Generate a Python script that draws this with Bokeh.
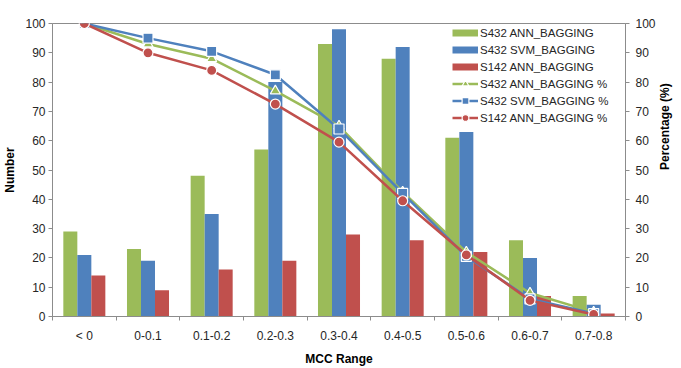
import math
import numpy as np
from bokeh.plotting import figure
from bokeh.models import (ColumnDataSource, Range1d, LinearAxis, FixedTicker,
                          Legend, LegendItem)
from bokeh.transform import dodge
from bokeh.embed import file_html
from bokeh.resources import INLINE

categories = ["< 0", "0-0.1", "0.1-0.2", "0.2-0.3", "0.3-0.4",
              "0.4-0.5", "0.5-0.6", "0.6-0.7", "0.7-0.8"]
ann432 = [29, 23, 48, 57, 93, 88, 61, 26, 7]
svm432 = [21, 19, 35, 80, 98, 92, 63, 20, 4]
ann142 = [14, 9, 16, 19, 28, 26, 22, 7, 1]
ann432_pct = [100, 93, 88, 77, 65, 42.5, 22, 8, 1.5]
svm432_pct = [100, 95, 90.5, 82.5, 64, 42, 20.5, 6, 1]
ann142_pct = [100, 90, 84, 72.5, 59.5, 39.5, 21, 5.5, 0.7]

GREEN = "#9BBB59"
BLUE = "#4F81BD"
RED = "#C0504D"
AXIS = "#8C8C8C"
TXT = "#262626"
FONT = "Liberation Sans"

n = len(categories)
centers = np.arange(n) + 0.5
src = ColumnDataSource(dict(x=centers, ann432=ann432, svm432=svm432, ann142=ann142,
                            ann432_pct=ann432_pct, svm432_pct=svm432_pct,
                            ann142_pct=ann142_pct))

p = figure(width=681, height=368, output_backend="svg", toolbar_location=None,
           x_range=Range1d(0, n), y_range=Range1d(0, 100),
           min_border_left=47, min_border_right=54, min_border_top=23,
           min_border_bottom=52)
p.extra_y_ranges = {"pct": Range1d(0, 100)}
p.xgrid.visible = False
p.ygrid.visible = False
p.outline_line_color = AXIS
p.background_fill_color = "white"
p.border_fill_color = "white"

bw = 0.22
r_g = p.vbar(x=dodge("x", -bw), top="ann432", width=bw, source=src,
             fill_color=GREEN, line_color=None)
r_b = p.vbar(x=dodge("x", 0), top="svm432", width=bw, source=src,
             fill_color=BLUE, line_color=None)
r_r = p.vbar(x=dodge("x", bw), top="ann142", width=bw, source=src,
             fill_color=RED, line_color=None)

# legend-only swatches for bars (thin bands, as in the original legend); they draw nothing in the plot
swatch = ColumnDataSource(dict(x=[0.0, 0.0], y=[float("nan"), float("nan")]))
sw_g = p.line("x", "y", source=swatch, line_color=GREEN, line_width=7)
sw_b = p.line("x", "y", source=swatch, line_color=BLUE, line_width=7)
sw_r = p.line("x", "y", source=swatch, line_color=RED, line_width=7)

lg = p.line("x", "ann432_pct", source=src, y_range_name="pct", line_color=GREEN, line_width=2.5)
mg = p.scatter("x", "ann432_pct", source=src, y_range_name="pct", marker="triangle",
               size=10, fill_color=GREEN, line_color="white", line_width=1.2)
lb = p.line("x", "svm432_pct", source=src, y_range_name="pct", line_color=BLUE, line_width=2.5)
mb = p.scatter("x", "svm432_pct", source=src, y_range_name="pct", marker="square",
               size=10, fill_color=BLUE, line_color="white", line_width=1.2)
lr = p.line("x", "ann142_pct", source=src, y_range_name="pct", line_color=RED, line_width=2.5)
mr = p.scatter("x", "ann142_pct", source=src, y_range_name="pct", marker="circle",
               size=10, fill_color=RED, line_color="white", line_width=1.2)

def style_axis(ax):
    ax.axis_line_color = AXIS
    ax.major_tick_line_color = AXIS
    ax.minor_tick_line_color = None
    ax.major_tick_in = 0
    ax.major_tick_out = 4
    ax.major_label_text_font = FONT
    ax.major_label_text_font_size = "12px"
    ax.major_label_text_color = TXT
    ax.axis_label_text_font = FONT
    ax.axis_label_text_font_size = "12px"
    ax.axis_label_text_font_style = "bold"
    ax.axis_label_text_color = "black"

xa = p.xaxis[0]
style_axis(xa)
xa.ticker = FixedTicker(ticks=list(centers), minor_ticks=list(np.arange(n + 1)))
xa.major_label_overrides = {float(c): lab for c, lab in zip(centers, categories)}
xa.major_tick_line_color = None
xa.minor_tick_line_color = AXIS
xa.minor_tick_in = 0
xa.minor_tick_out = 4
xa.major_label_standoff = 8
xa.axis_label = "MCC Range"
xa.axis_label_standoff = 6

ya = p.yaxis[0]
style_axis(ya)
ya.ticker = FixedTicker(ticks=list(range(0, 101, 10)))
ya.major_label_standoff = 3
ya.axis_label = "Number"
ya.axis_label_standoff = 5

ra = LinearAxis(y_range_name="pct", ticker=FixedTicker(ticks=list(range(0, 101, 10))))
style_axis(ra)
ra.major_label_standoff = 6
ra.axis_label = "Percentage (%)"
ra.axis_label_standoff = 6
ra.axis_label_orientation = math.pi / 2
p.add_layout(ra, "right")

legend = Legend(items=[
    LegendItem(label="S432 ANN_BAGGING", renderers=[sw_g]),
    LegendItem(label="S432 SVM_BAGGING", renderers=[sw_b]),
    LegendItem(label="S142 ANN_BAGGING", renderers=[sw_r]),
    LegendItem(label="S432 ANN_BAGGING %", renderers=[lg, mg]),
    LegendItem(label="S432 SVM_BAGGING %", renderers=[lb, mb]),
    LegendItem(label="S142 ANN_BAGGING %", renderers=[lr, mr]),
], location=(400, 190))
legend.background_fill_alpha = 0
legend.border_line_color = None
legend.padding = 0
legend.margin = 0
legend.spacing = 0
legend.glyph_width = 26
legend.glyph_height = 17
legend.label_height = 17
legend.label_standoff = 2
legend.label_text_font = FONT
legend.label_text_font_size = "11.5px"
legend.label_text_color = TXT
p.add_layout(legend, "center")

open("out.html", "w").write(file_html(p, INLINE))
